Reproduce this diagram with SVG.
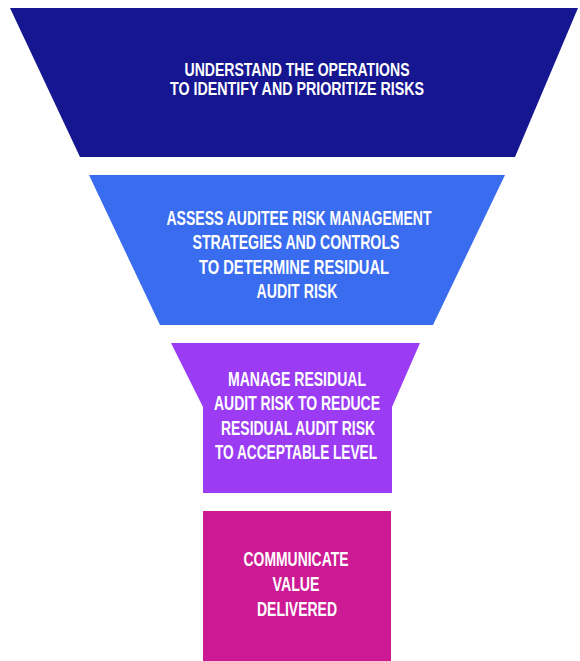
<svg xmlns="http://www.w3.org/2000/svg" width="580" height="661" viewBox="0 0 580 661">
  <style>
    .lbl { font-family: "Liberation Sans Narrow", "Liberation Sans", Arial, sans-serif; font-weight: bold; font-size: 20px; fill: #ffffff; text-anchor: middle; }
    .sm { font-size: 18px; }
    .s1 { fill: #161690; }
    .s2 { fill: #3a6cf0; }
    .s3 { fill: #9b3cf4; }
    .s4 { fill: #cc1a94; }
  </style>
  <rect width="580" height="661" fill="#ffffff"/>

  <!-- stage 1: widest funnel band -->
  <g id="stage-understand">
    <polygon class="s1" points="10,8 578,8 515,157 80,157"/>
    <text class="lbl sm" x="297" y="76" textLength="225" lengthAdjust="spacingAndGlyphs">UNDERSTAND THE OPERATIONS</text>
    <text class="lbl sm" x="297" y="95" textLength="254" lengthAdjust="spacingAndGlyphs">TO IDENTIFY AND PRIORITIZE RISKS</text>
  </g>

  <!-- stage 2 -->
  <g id="stage-assess">
    <polygon class="s2" points="89,175 505,175 433,325 160,325"/>
    <text class="lbl" x="299" y="225" textLength="265" lengthAdjust="spacingAndGlyphs">ASSESS AUDITEE RISK MANAGEMENT</text>
    <text class="lbl" x="296" y="249" textLength="207" lengthAdjust="spacingAndGlyphs">STRATEGIES AND CONTROLS</text>
    <text class="lbl" x="294" y="274" textLength="190" lengthAdjust="spacingAndGlyphs">TO DETERMINE RESIDUAL</text>
    <text class="lbl" x="297" y="298" textLength="81" lengthAdjust="spacingAndGlyphs">AUDIT RISK</text>
  </g>

  <!-- stage 3: tapered top on a straight stem -->
  <g id="stage-manage">
    <polygon class="s3" points="171,343 420,343 392,407 392,493 203,493 203,407"/>
    <text class="lbl" x="297" y="386" textLength="138" lengthAdjust="spacingAndGlyphs">MANAGE RESIDUAL</text>
    <text class="lbl" x="297" y="410" textLength="166" lengthAdjust="spacingAndGlyphs">AUDIT RISK TO REDUCE</text>
    <text class="lbl" x="298" y="435" textLength="154" lengthAdjust="spacingAndGlyphs">RESIDUAL AUDIT RISK</text>
    <text class="lbl" x="296" y="459" textLength="162" lengthAdjust="spacingAndGlyphs">TO ACCEPTABLE LEVEL</text>
  </g>

  <!-- stage 4: outlet -->
  <g id="stage-communicate">
    <rect class="s4" x="203" y="511" width="188" height="150"/>
    <text class="lbl" x="296" y="566" textLength="105" lengthAdjust="spacingAndGlyphs">COMMUNICATE</text>
    <text class="lbl" x="296" y="591" textLength="47" lengthAdjust="spacingAndGlyphs">VALUE</text>
    <text class="lbl" x="297" y="616" textLength="80" lengthAdjust="spacingAndGlyphs">DELIVERED</text>
  </g>

  <g id="connectors"></g>
</svg>
